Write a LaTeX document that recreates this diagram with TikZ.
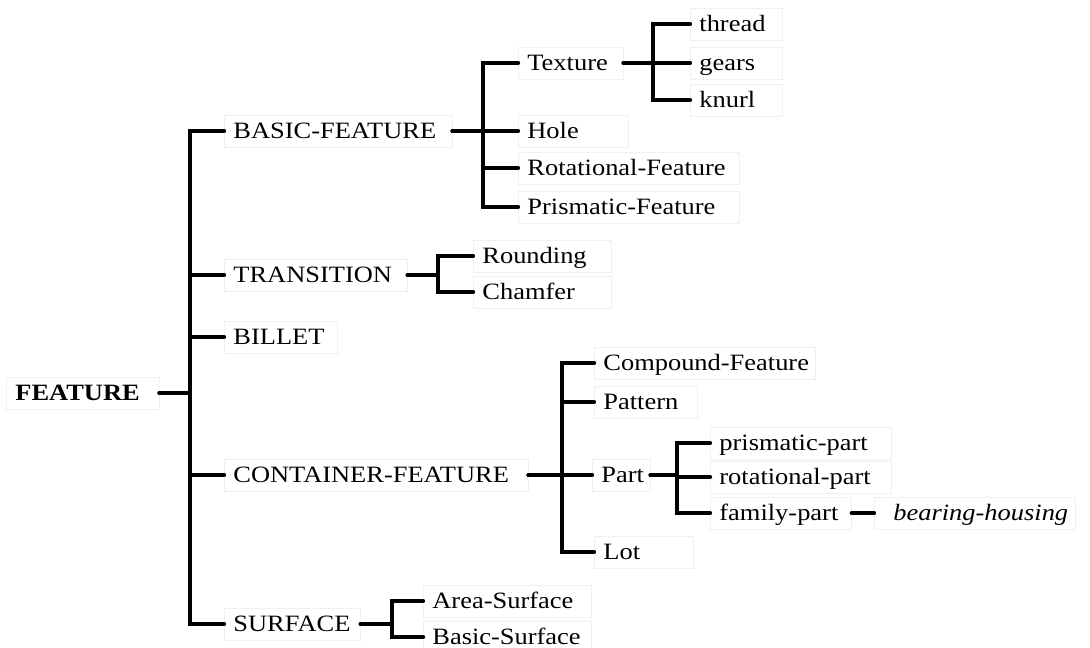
\documentclass[tikz,border=0pt]{standalone}
\usepackage{fontspec}
\setmainfont{Liberation Serif}[FakeStretch=1.13]
\begin{document}
\begin{tikzpicture}[x=1pt,y=-1pt,
  conn/.style={line width=4.4pt, line cap=round, line join=miter},
  lbl/.style={font=\fontsize{23.4}{27}\selectfont},
  item/.style={lbl, draw=black!6, line width=0.8pt, anchor=west,
    inner xsep=9pt, inner ysep=3.5pt, text height=20pt, text depth=5pt,
    align=left, text width=#1,
    execute at begin node={\hyphenpenalty=10000\exhyphenpenalty=10000\hbadness=10000\hfuzz=50pt}},
]
\useasboundingbox (0,0) rectangle (1090,648);

% root
\node[item=135pt, font=\fontsize{23.4}{27}\selectfont\bfseries] (feat) at (6,393) {FEATURE};

% first level
\node[item=210pt] (basic)  at (224,131) {BASIC-FEATURE};
\node[item=165pt] (trans)  at (224,275) {TRANSITION};
\node[item=95pt]  (billet) at (224,337) {BILLET};
\node[item=286pt] (cont)   at (224,475) {CONTAINER-FEATURE};
\node[item=118pt] (surf)   at (224,624) {SURFACE};

% basic features
\node[item=87pt]  (tex)   at (518,63)  {Texture};
\node[item=92pt]  (hole)  at (518,131) {Hole};
\node[item=203pt] (rot)   at (518,168) {Rotational-Feature};
\node[item=203pt] (prism) at (518,207) {Prismatic-Feature};

% textures
\node[item=74pt] (thread) at (690,24)  {thread};
\node[item=74pt] (gears)  at (690,63)  {gears};
\node[item=74pt] (knurl)  at (690,100) {knurl};

% transitions
\node[item=120pt] (round)  at (473,256) {Rounding};
\node[item=120pt] (chamf)  at (473,292) {Chamfer};

% container features
\node[item=203pt] (comp)    at (594,363) {Compound-Feature};
\node[item=85pt]  (pattern) at (594,402) {Pattern};
\node[item=40pt]  (part)    at (592,475) {Part};
\node[item=81pt]  (lot)     at (594,552) {Lot};

% parts
\node[item=163pt] (pp) at (710,443) {prismatic-part};
\node[item=163pt] (rp) at (710,477) {rotational-part};
\node[item=123pt] (fp) at (710,513) {family-part};
\node[item=183pt, font=\fontsize{23.4}{27}\selectfont\itshape] (bh) at (874,513) {\hspace*{10pt}bearing-housing};

% surfaces
\node[item=150pt] (area)  at (423,601) {Area-Surface};
\node[item=150pt] (bsurf) at (423,637) {Basic-Surface};

% bracket junctions
\coordinate (j0)  at (190,393);
\coordinate (jb)  at (483,131);
\coordinate (jt)  at (653,63);
\coordinate (jtr) at (438,275);
\coordinate (jc)  at (562,475);
\coordinate (jp)  at (677,475);
\coordinate (js)  at (392,624);

% brackets
\foreach \c in {basic,trans,billet,cont,surf}
  \draw[conn] (feat.east) -- (j0) |- (\c.west);
\foreach \c in {tex,hole,rot,prism}
  \draw[conn] (basic.east) -- (jb) |- (\c.west);
\foreach \c in {thread,gears,knurl}
  \draw[conn] (tex.east) -- (jt) |- (\c.west);
\foreach \c in {round,chamf}
  \draw[conn] (trans.east) -- (jtr) |- (\c.west);
\foreach \c in {comp,pattern,part,lot}
  \draw[conn] (cont.east) -- (jc) |- (\c.west);
\foreach \c in {pp,rp,fp}
  \draw[conn] (part.east) -- (jp) |- (\c.west);
\foreach \c in {area,bsurf}
  \draw[conn] (surf.east) -- (js) |- (\c.west);
\draw[conn] (fp.east) -- (bh.west);
\end{tikzpicture}
\end{document}
